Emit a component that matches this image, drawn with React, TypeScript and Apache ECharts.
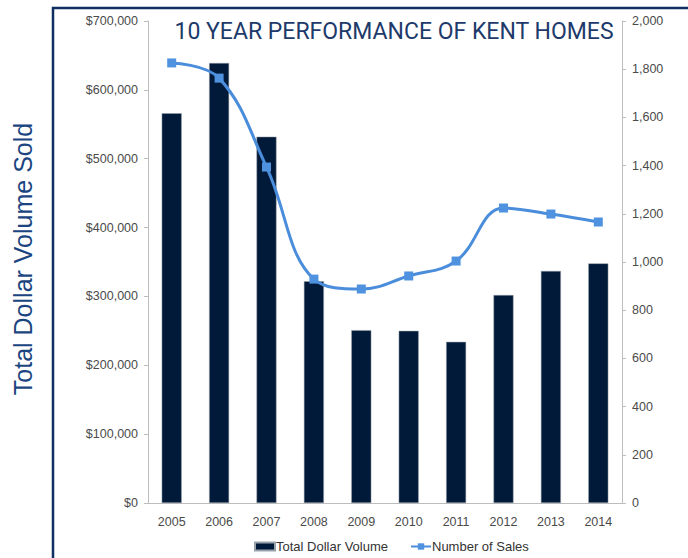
import React, { useEffect, useRef } from "react";
import * as echarts from "echarts";

const years = ["2005", "2006", "2007", "2008", "2009", "2010", "2011", "2012", "2013", "2014"];
const dollarVolume = [566000, 639000, 532000, 322000, 251000, 250000, 234000, 302000, 337000, 348000];
const numberOfSales = [1826, 1763, 1394, 929, 888, 942, 1004, 1224, 1199, 1166];
const titleText = "10 YEAR PERFORMANCE OF KENT HOMES";
const yTitle = "Total Dollar Volume Sold";

export default function App() {
  const ref = useRef<HTMLDivElement>(null);
  useEffect(() => {
    if (!ref.current) return;
    const chart = echarts.init(ref.current, null, { renderer: "svg" });
    const labelStyle = { color: "#4a4a4a", fontSize: 12.5, fontFamily: "Liberation Sans, Arial, sans-serif" };
    chart.setOption({
      animation: false,
      backgroundColor: "#ffffff",
      graphic: [
        {
          type: "rect",
          shape: { x: 53, y: 8, width: 700, height: 600 },
          style: { fill: "none", stroke: "#0f2f63", lineWidth: 2.5 },
          z: 10,
        },
        {
          type: "text",
          x: 394,
          y: 31,
          style: {
            text: titleText,
            fill: "#1d3a6a",
            fontSize: 23,
            fontFamily: "Roboto, sans-serif",
            align: "center",
            verticalAlign: "middle",
          },
          z: 10,
        },
        {
          type: "text",
          x: 23,
          y: 259,
          rotation: Math.PI / 2,
          style: {
            text: yTitle,
            fill: "#1b4580",
            fontSize: 25,
            fontFamily: "Liberation Sans, Arial, sans-serif",
            align: "center",
            verticalAlign: "middle",
          },
          z: 10,
        },
      ],
      grid: { left: 148, right: 66, top: 21, bottom: 55, containLabel: false },
      legend: {
        bottom: 0,
        left: 249,
        itemGap: 22,
        itemWidth: 20,
        itemHeight: 8,
        textStyle: { color: "#333", fontSize: 13, fontFamily: "Liberation Sans, Arial, sans-serif", padding: [0, 0, 0, -4] },
        data: [
          { name: "Total Dollar Volume", icon: "rect", itemStyle: { color: "#021a3a" } },
          { name: "Number of Sales" },
        ],
      },
      xAxis: {
        type: "category",
        data: years,
        axisLine: { lineStyle: { color: "#bdbdbd" } },
        axisTick: { show: false },
        axisLabel: { ...labelStyle, margin: 12 },
      },
      yAxis: [
        {
          type: "value",
          min: 0,
          max: 700000,
          interval: 100000,
          position: "left",
          axisLine: { show: true, lineStyle: { color: "#bdbdbd" } },
          axisTick: { show: true, length: 4, lineStyle: { color: "#bdbdbd" } },
          splitLine: { show: false },
          axisLabel: {
            ...labelStyle,
            margin: 10,
            formatter: (v: number) => "$" + v.toLocaleString("en-US"),
          },
        },
        {
          type: "value",
          min: 0,
          max: 2000,
          interval: 200,
          position: "right",
          axisLine: { show: true, lineStyle: { color: "#bdbdbd" } },
          axisTick: { show: true, length: 4, lineStyle: { color: "#bdbdbd" } },
          splitLine: { show: false },
          axisLabel: {
            ...labelStyle,
            margin: 10,
            formatter: (v: number) => v.toLocaleString("en-US"),
          },
        },
      ],
      series: [
        {
          name: "Total Dollar Volume",
          type: "bar",
          data: dollarVolume,
          barWidth: 20,
          itemStyle: { color: "#021a3a", borderColor: "#9aa3ad", borderWidth: 0.5 },
        },
        {
          name: "Number of Sales",
          type: "line",
          yAxisIndex: 1,
          data: numberOfSales,
          smooth: 0.4,
          symbol: "rect",
          symbolSize: 9,
          lineStyle: { color: "#4a8ddb", width: 3 },
          itemStyle: { color: "#4f93e0" },
        },
      ],
    });
    return () => chart.dispose();
  }, []);
  return <div ref={ref} style={{ position: "fixed", left: 0, top: 0, width: 688, height: 558 }} />;
}
